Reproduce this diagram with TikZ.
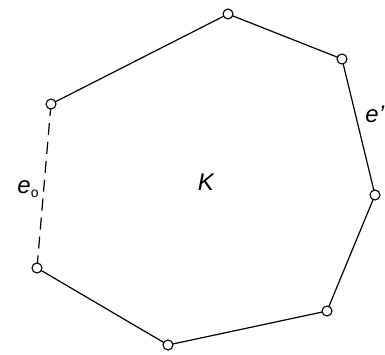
\documentclass[tikz,border=0pt]{standalone}
\usepackage{fontspec}
\setmainfont{Liberation Sans}

\begin{document}
\begin{tikzpicture}[
					x=0.5pt,y=-0.5pt,
					vnode/.style={circle,draw,fill=white,inner sep=0pt,minimum size=5pt,line width=0.55pt},
					kedge/.style={draw,line width=0.6pt},
					lbl/.style={font=\large\itshape,inner sep=0pt}
					]
					\useasboundingbox (0,0) rectangle (385,354);
					\foreach \q/\x/\y in {1/228/14,2/342/59,3/375/195,4/327/311,5/168/345,6/37/268,7/51/104}{
						\coordinate (p\q) at (\x,\y);
					}
					\draw[kedge] (p7) -- (p1) -- (p2) -- (p3) -- (p4) -- (p5) -- (p6);
					\draw[kedge,dash pattern=on 6pt off 3.5pt] (p7) -- (p6);
					\foreach \q in {1,...,7}{
						\node[vnode] (v\q) at (p\q) {};
					}
					\node[lbl] (kl) at (206,182) {K};
					\node[lbl,anchor=west] (el) at (365,114) {e'};
					\node[lbl] (eo) at (28,189) {e\raisebox{-0.35ex}{\scriptsize\upshape o}};
				\end{tikzpicture}
\end{document}
